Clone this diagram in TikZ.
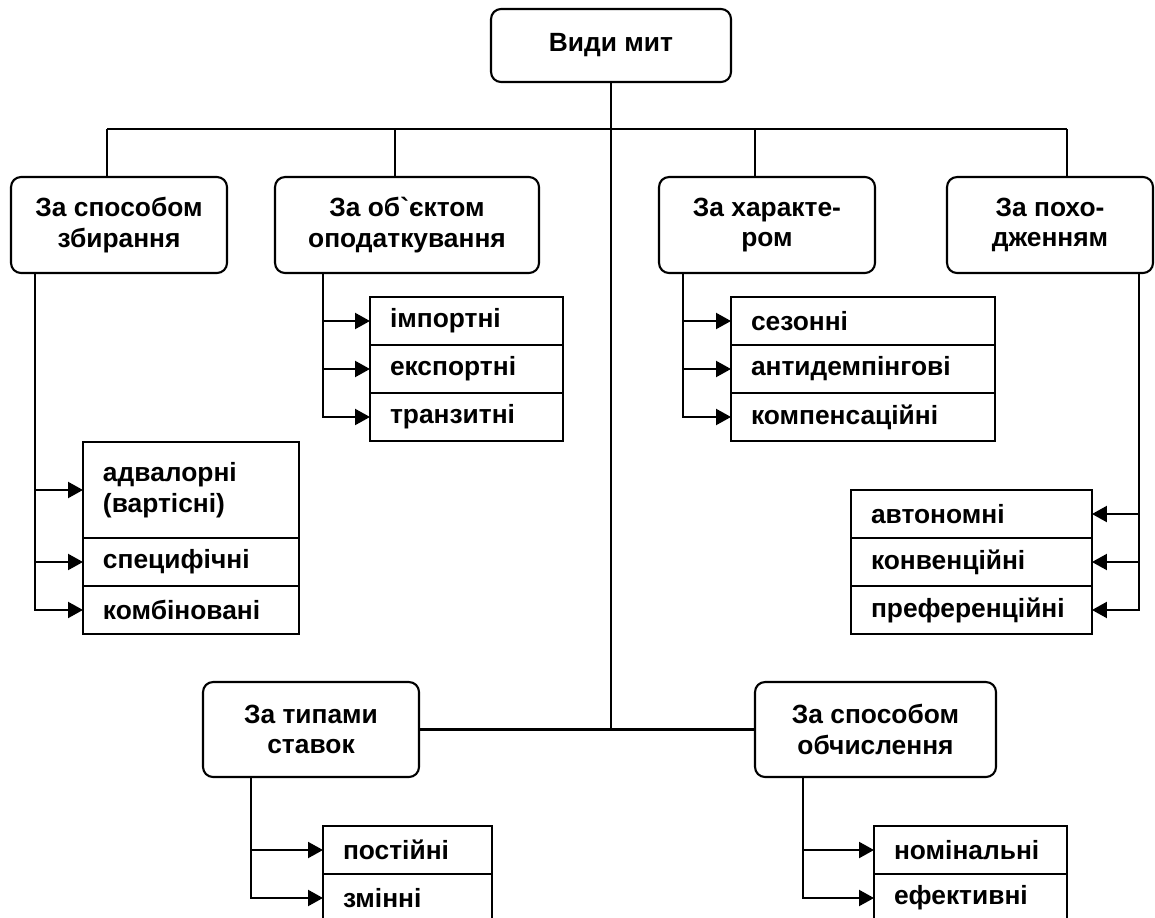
\documentclass[tikz,border=0pt]{standalone}
\usepackage{fontspec}
\setmainfont{Liberation Sans}
\usepackage{tikz}
\usetikzlibrary{arrows.meta, positioning}

\begin{document}
\begin{tikzpicture}[
                x=0.02cm, y=-0.02cm,
                line width=1.2pt,
                font=\fontsize{15}{17.5}\selectfont\bfseries,
                kind/.style={rectangle, draw, rounded corners=0.2cm, align=center, minimum height=1.92cm, outer sep=0pt},
                item/.style={rectangle, draw, align=left, text width=#1, inner xsep=0.4cm, minimum height=0.96cm, outer sep=0pt},
                link/.style={-{Triangle[length=0.3cm, width=0.32cm]}}
            ]
                \useasboundingbox (0,0) rectangle (1155,917);

                % Root and kinds
                \node[kind, minimum width=4.8cm, minimum height=1.46cm] (root) at (611,45.5) {Види мит};
                \node[kind, minimum width=4.32cm] (collect) at (119,225) {За способом\\збирання};
                \node[kind, minimum width=5.28cm] (object) at (407,225) {За об\textasciigrave єктом\\оподаткування};
                \node[kind, minimum width=4.32cm] (nature) at (767,225) {За характе-\\ром};
                \node[kind, minimum width=4.12cm] (origin) at (1050,225) {За похо-\\дженням};
                \node[kind, minimum width=4.32cm, minimum height=1.9cm] (rates) at (311,729.5) {За типами\\ставок};
                \node[kind, minimum width=4.82cm, minimum height=1.9cm] (calc) at (875.5,729.5) {За способом\\обчислення};

                % Duties
                \node[item=3.06cm, anchor=north west] (import) at (370,297) {імпортні};
                \node[item=3.06cm, below=0pt of import] (export) {експортні};
                \node[item=3.06cm, below=0pt of export] (transit) {транзитні};

                \node[item=4.48cm, anchor=north west] (season) at (731,297) {сезонні};
                \node[item=4.48cm, below=0pt of season] (antidump) {антидемпінгові};
                \node[item=4.48cm, below=0pt of antidump] (compens) {компенсаційні};

                \node[item=3.52cm, minimum height=1.92cm, anchor=north west] (advalor) at (83,442) {адвалорні\\(вартісні)};
                \node[item=3.52cm, below=0pt of advalor] (specific) {специфічні};
                \node[item=3.52cm, below=0pt of specific] (combined) {комбіновані};

                \node[item=4.02cm, anchor=north west] (auton) at (851,490) {автономні};
                \node[item=4.02cm, below=0pt of auton] (convent) {конвенційні};
                \node[item=4.02cm, below=0pt of convent] (prefer) {преференційні};

                \node[item=2.58cm, anchor=north west] (fixed) at (323,826) {постійні};
                \node[item=2.58cm, below=0pt of fixed] (variable) {змінні};

                \node[item=3.06cm, anchor=north west] (nominal) at (874,826) {номінальні};
                \node[item=3.06cm, below=0pt of nominal] (effective) {ефективні};

                % Tree
                \coordinate (barL) at (107,129);
                \coordinate (barR) at (1067,129);
                \coordinate (j2) at (395,129);
                \coordinate (j3) at (755,129);
                \draw (root.south) -- (root.south |- rates.east);
                \draw (barL) -- (barR);
                \draw (barL) -- (barL |- collect.north);
                \draw (j2) -- (j2 |- object.north);
                \draw (j3) -- (j3 |- nature.north);
                \draw (barR) -- (barR |- origin.north);
                \draw (rates.east) -- (calc.west);

                % Branches
                \coordinate (c1) at ([xshift=0.48cm]collect.south west);
                \coordinate (c2) at ([xshift=0.96cm]object.south west);
                \coordinate (c3) at ([xshift=0.48cm]nature.south west);
                \coordinate (c4) at ([xshift=-0.28cm]origin.south east);
                \coordinate (c5) at ([xshift=0.96cm]rates.south west);
                \coordinate (c6) at ([xshift=0.96cm]calc.south west);
                \foreach \t in {advalor, specific, combined} \draw[link] (c1) |- (\t.west);
                \foreach \t in {import, export, transit} \draw[link] (c2) |- (\t.west);
                \foreach \t in {season, antidump, compens} \draw[link] (c3) |- (\t.west);
                \foreach \t in {auton, convent, prefer} \draw[link] (c4) |- (\t.east);
                \foreach \t in {fixed, variable} \draw[link] (c5) |- (\t.west);
                \foreach \t in {nominal, effective} \draw[link] (c6) |- (\t.west);
            \end{tikzpicture}
\end{document}
